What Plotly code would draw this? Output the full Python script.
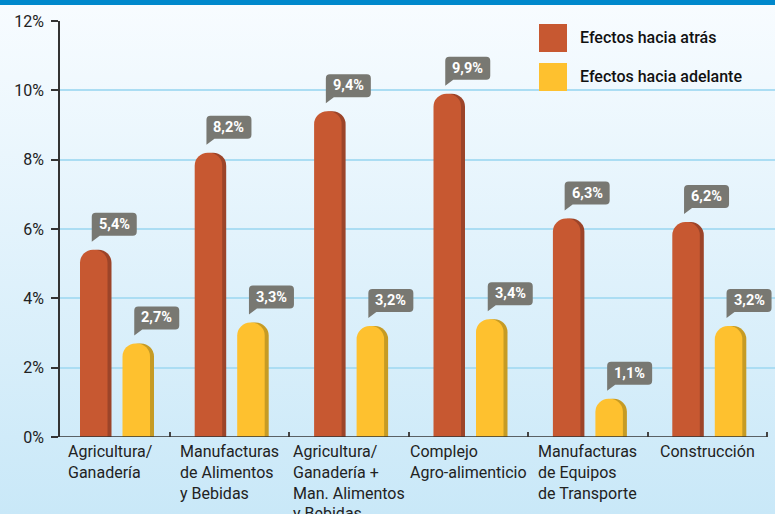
import base64
import plotly.graph_objects as go

# ---------------- data ----------------
categories = [
    "Agricultura/<br>Ganadería",
    "Manufacturas<br>de Alimentos<br>y Bebidas",
    "Agricultura/<br>Ganadería +<br>Man. Alimentos<br>y Bebidas",
    "Complejo<br>Agro-alimenticio",
    "Manufacturas<br>de Equipos<br>de Transporte",
    "Construcción",
]
efectos_atras = [5.4, 8.2, 9.4, 9.9, 6.3, 6.2]
efectos_adelante = [2.7, 3.3, 3.2, 3.4, 1.1, 3.2]
series_names = ["Efectos hacia atrás", "Efectos hacia adelante"]
y_tickvals = [0, 2, 4, 6, 8, 10, 12]
y_ticktext = [f"{v}%" for v in y_tickvals]

# ---------------- style / geometry ----------------
W, H = 775, 514
L, R, T, B = 60, 0, 21, 77
PW, PH = W - L - R, H - T - B
PX = 119.4                      # pixels per category
X0PX = 170 - PX                 # pixel position of boundary -0.5
x_range = [(L - X0PX) / PX - 0.5, (W - X0PX) / PX - 0.5]
d = 21.25 / PX                  # half distance between paired bars
bw = 27.5 / PX                  # bar width
sh = 4 / PX                     # shadow shift

RED, RED_SH = "#C75831", "#9C4429"
YEL, YEL_SH = "#FEC12F", "#C69B24"
BOX = "#787872"
FONT = "Roboto"

n = len(categories)
# group centres: middle of the visible span of each category
centers = [(max(i - 0.5, x_range[0]) + (i + 0.5)) / 2 for i in range(n)]

fig = go.Figure()

series = [(efectos_atras, -d, RED, RED_SH, series_names[0]),
          (efectos_adelante, d, YEL, YEL_SH, series_names[1])]

for vals, off, col, shcol, name in series:
    xs = [c + off for c in centers]
    fig.add_trace(go.Bar(x=[x + sh for x in xs], y=vals, width=bw,
                         marker=dict(color=shcol, cornerradius=13, line_width=0),
                         showlegend=False, hoverinfo="skip"))
for vals, off, col, shcol, name in series:
    xs = [c + off for c in centers]
    fig.add_trace(go.Bar(x=xs, y=vals, width=bw, name=name,
                         marker=dict(color=col, cornerradius=13, line_width=0),
                         showlegend=False))

shapes = []
annotations = []

# callout labels
xl, xr, yb, yt, r, tail = -2, 43, 14, 37, 4, 6
path = (f"M {xl},{yb - tail} L {xl},{yt - r} Q {xl},{yt} {xl + r},{yt} "
        f"L {xr - r},{yt} Q {xr},{yt} {xr},{yt - r} L {xr},{yb + r} Q {xr},{yb} {xr - r},{yb} "
        f"L {xl + 8},{yb} Z")
for vals, off, col, shcol, name in series:
    for i, v in enumerate(vals):
        cx = centers[i] + off
        shapes.append(dict(type="path", xref="x", yref="y", xsizemode="pixel", ysizemode="pixel",
                           xanchor=cx, yanchor=v, path=path, fillcolor=BOX, line_width=0, layer="above"))
        annotations.append(dict(x=cx, y=v, xref="x", yref="y", xshift=(xl + xr) / 2, yshift=(yb + yt) / 2,
                                text=f"{v:.1f}".replace(".", ",") + "%", showarrow=False,
                                font=dict(family=FONT, size=14.5, color="white", weight="bold"),
                                xanchor="center", yanchor="middle"))

# category labels
for i, c in enumerate(categories):
    annotations.append(dict(x=i, y=0, xref="x", yref="y", yanchor="top", xanchor="center", yshift=-3,
                            align="left", text=c, showarrow=False,
                            font=dict(family=FONT, size=16, color="#222")))

# x axis line
shapes.append(dict(type="line", xref="x", yref="y", x0=x_range[0], x1=5.5, y0=0, y1=0,
                   line=dict(color="#333", width=1.5), layer="above"))

# custom legend
def px2paper(px, py):
    return (px - L) / PW, (H - B - py) / PH

for k, (col, name) in enumerate([(RED, series_names[0]), (YEL, series_names[1])]):
    top = 24 + k * 39
    x0, y0 = px2paper(539, top + 28)
    x1, y1 = px2paper(567, top)
    shapes.append(dict(type="rect", xref="paper", yref="paper", x0=x0, x1=x1, y0=y0, y1=y1,
                       fillcolor=col, line_width=0))
    tx, ty = px2paper(578, top + 14)
    annotations.append(dict(x=tx, y=ty, xref="paper", yref="paper", xanchor="left", yanchor="middle",
                            text=name, showarrow=False,
                            font=dict(family=FONT, size=16, color="#111", weight=500)))

# background gradient + top band
svg = (f'<svg xmlns="http://www.w3.org/2000/svg" width="{W}" height="{H}" viewBox="0 0 {W} {H}" '
       f'preserveAspectRatio="none"><defs><linearGradient id="g" x1="0" y1="0" x2="0" y2="1">'
       f'<stop offset="0" stop-color="#F8FCFF"/><stop offset="1" stop-color="#C9E8F8"/></linearGradient></defs>'
       f'<rect width="{W}" height="{H}" fill="url(#g)"/><rect width="{W}" height="5" fill="#0088CC"/></svg>')
src = "data:image/svg+xml;base64," + base64.b64encode(svg.encode()).decode()

fig.update_layout(
    width=W, height=H,
    margin=dict(l=L, r=R, t=T, b=B, pad=0),
    paper_bgcolor="#E3F2FB", plot_bgcolor="rgba(0,0,0,0)",
    barmode="overlay",
    showlegend=False,
    font=dict(family=FONT, size=16, color="#222"),
    xaxis=dict(range=x_range, tickvals=[i + 0.5 for i in range(n)], ticks="inside", ticklen=5,
               tickcolor="#444", tickwidth=1.5, showticklabels=False, showgrid=False, zeroline=False,
               showline=False, fixedrange=True),
    yaxis=dict(range=[0, 12], tickvals=y_tickvals, ticktext=y_ticktext, ticks="outside", ticklen=7,
               tickcolor="#333", tickwidth=1.5, showline=True, linecolor="#333", linewidth=1.5,
               gridcolor="#ABDDF3", gridwidth=2, zeroline=False, ticklabelstandoff=4,
               tickfont=dict(family=FONT, size=16, color="#222"), fixedrange=True),
    shapes=shapes,
    annotations=annotations,
    images=[dict(source=src, xref="paper", yref="paper", x=-L / PW, y=1 + T / PH,
                 sizex=W / PW, sizey=H / PH, xanchor="left", yanchor="top", sizing="stretch", layer="below")],
)

fig.write_html("out.html", config={"displayModeBar": False},
               post_script="document.body.style.margin='0';document.body.style.overflow='hidden';")
